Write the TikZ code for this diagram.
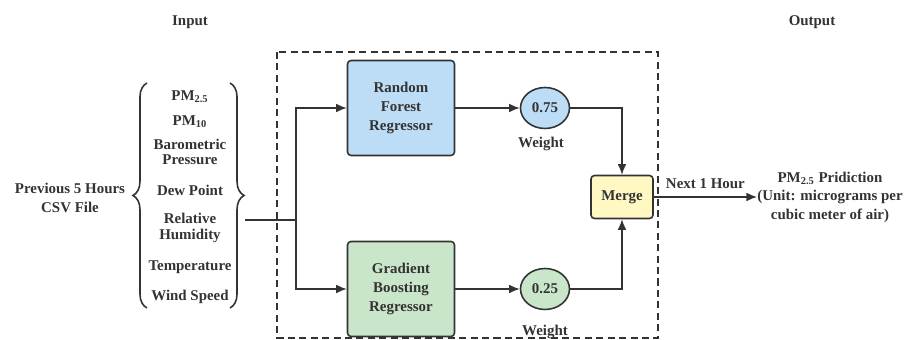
\documentclass[tikz,border=0pt]{standalone}
\usepackage{fontspec}
\setmainfont{Liberation Serif}
\usetikzlibrary{arrows.meta,shapes.geometric,decorations.pathreplacing}

\definecolor{rfblue}{HTML}{BDDDF6}
\definecolor{gbgreen}{HTML}{C9E5CA}
\definecolor{mergeyellow}{HTML}{FFF8C2}
\definecolor{linegray}{HTML}{333333}

\tikzset{
    model/.style={rectangle,rounded corners=2pt,draw=linegray,line width=0.9pt,
                  minimum width=2.14cm,minimum height=1.9cm,align=center},
    weight/.style={ellipse,draw=linegray,line width=0.9pt,inner sep=0pt,
                   minimum width=0.98cm,minimum height=0.82cm},
    mergebox/.style={rectangle,rounded corners=2pt,draw=linegray,line width=0.9pt,
                     fill=mergeyellow,minimum width=1.24cm,minimum height=0.86cm},
    flow/.style={draw=linegray,line width=0.8pt,-{Latex[length=6pt,width=5pt]}},
    link/.style={draw=linegray,line width=0.8pt},
}

\begin{document}
\begin{tikzpicture}[x=0.02cm,y=-0.02cm,text=linegray,
                    font=\fontsize{8.5}{10.8}\selectfont\bfseries]
\useasboundingbox (0,0) rectangle (904,340);

\node (input) at (190,22) {Input};
\node (output) at (812,22) {Output};

% ensemble frame
\draw[draw=linegray,line width=0.8pt,dash pattern=on 4pt off 2.5pt] (277,52) rectangle (658,338);

\node[align=center] (csv) at (70,198) {Previous 5 Hours\\CSV File};

% input features
\begin{scope}[every node/.style={align=center,inner sep=1pt,
              font=\fontsize{8.5}{8.7}\selectfont\bfseries}]
    \node (pm25) at (190,97) {PM\textsubscript{2.5}};
    \node (pm10) at (190,122) {PM\textsubscript{10}};
    \node (press) at (190,152) {Barometric\\Pressure};
    \node (dew) at (190,190) {Dew Point};
    \node (hum) at (190,228) {Relative\\Humidity};
    \node (temp) at (190,267) {Temperature};
    \node (wind) at (190,297) {Wind Speed};
\end{scope}

\draw[draw=linegray,line width=0.9pt,decorate,decoration={brace,amplitude=8pt}]
    (147,308) -- (147,83);
\draw[draw=linegray,line width=0.9pt,decorate,decoration={brace,amplitude=8pt}]
    (230,83) -- (230,308);

\coordinate (feed) at (245,220);
\coordinate (split) at (296,220);

\node[model,fill=rfblue] (rf) at (401,108) {Random\\Forest\\Regressor};
\node[model,fill=gbgreen] (gb) at (401,289) {Gradient\\Boosting\\Regressor};
\node[weight,fill=rfblue] (w1) at (545,108) {0.75};
\node[weight,fill=gbgreen] (w2) at (545,289) {0.25};
\node (w1lab) at (541,144) {Weight};
\node (w2lab) at (545,332) {Weight};
\node[mergebox] (merge) at (622,197) {Merge};
\node[align=center,inner sep=0pt,font=\fontsize{8.5}{10.5}\selectfont\bfseries] (pred) at (830,197)
    {PM\textsubscript{2.5} Pridiction\\(Unit: micrograms per\\cubic meter of air)};

\draw[link] (feed) -- (split);
\draw[flow] (split) |- (rf);
\draw[flow] (split) |- (gb);
\draw[flow] (rf) -- (w1);
\draw[flow] (gb) -- (w2);
\draw[flow] (w1) -| (merge);
\draw[flow] (w2) -| (merge);
\draw[flow] (merge) -- node[above=1pt] (next) {Next 1 Hour} (pred);
\end{tikzpicture}
\end{document}
